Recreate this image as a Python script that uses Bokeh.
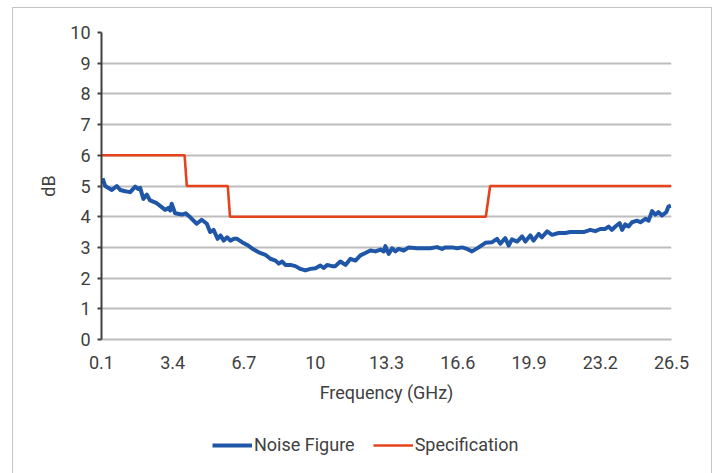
from bokeh.plotting import figure
from bokeh.layouts import column
from bokeh.models import Range1d, FixedTicker, Legend, LegendItem, ColumnDataSource
from bokeh.embed import file_html
from bokeh.resources import INLINE

# ---- data ----
nf_freq = [0.15, 0.27, 0.58, 0.81, 0.97, 1.20, 1.43, 1.66, 1.81, 1.89, 2.04, 2.20, 2.35, 2.66, 2.89,
           3.05, 3.20, 3.28, 3.35, 3.51, 3.82, 4.00, 4.21, 4.51, 4.74, 4.98, 5.13, 5.29, 5.48, 5.61,
           5.76, 5.92, 6.07, 6.23, 6.38, 6.61, 6.85, 7.15, 7.38, 7.69, 7.92, 8.16, 8.31, 8.47, 8.62,
           8.85, 9.08, 9.31, 9.54, 9.78, 10.01, 10.24, 10.39, 10.55, 10.78, 10.93, 11.16, 11.40, 11.63,
           11.86, 12.09, 12.32, 12.55, 12.79, 13.02, 13.17, 13.25, 13.40, 13.56, 13.71, 13.86, 14.10,
           14.33, 14.72, 15.33, 15.64, 15.87, 16.03, 16.34, 16.57, 16.80, 17.03, 17.26, 17.57, 17.88,
           18.19, 18.42, 18.57, 18.80, 18.96, 19.11, 19.35, 19.58, 19.73, 19.96, 20.11, 20.35, 20.50,
           20.74, 20.97, 21.27, 21.58, 21.81, 22.12, 22.43, 22.74, 22.97, 23.20, 23.43, 23.59, 23.74,
           23.90, 24.10, 24.21, 24.36, 24.51, 24.67, 24.90, 25.06, 25.29, 25.44, 25.60, 25.75, 25.90,
           26.06, 26.26, 26.36, 26.47]
nf_db = [5.25, 5.00, 4.87, 5.00, 4.87, 4.83, 4.80, 4.98, 4.90, 4.94, 4.58, 4.72, 4.53, 4.44, 4.31,
         4.22, 4.29, 4.20, 4.42, 4.11, 4.07, 4.11, 3.98, 3.77, 3.90, 3.77, 3.50, 3.57, 3.28, 3.39,
         3.22, 3.33, 3.22, 3.28, 3.28, 3.17, 3.08, 2.93, 2.84, 2.76, 2.63, 2.57, 2.47, 2.54, 2.43,
         2.43, 2.39, 2.30, 2.25, 2.30, 2.32, 2.41, 2.33, 2.43, 2.39, 2.39, 2.54, 2.43, 2.63,
         2.57, 2.74, 2.82, 2.90, 2.87, 2.93, 2.87, 3.04, 2.79, 2.97, 2.87, 2.95, 2.90,
         3.00, 2.97, 2.97, 3.01, 2.95, 3.00, 3.00, 2.97, 3.00, 2.95, 2.87, 3.00, 3.15,
         3.17, 3.28, 3.12, 3.30, 3.06, 3.26, 3.19, 3.36, 3.19, 3.39, 3.22, 3.44, 3.33,
         3.52, 3.41, 3.47, 3.47, 3.50, 3.50, 3.50, 3.57, 3.53, 3.60, 3.60, 3.68, 3.57,
         3.68, 3.79, 3.57, 3.75, 3.68, 3.82, 3.87, 3.82, 3.93, 3.87, 4.18, 4.07, 4.15,
         4.04, 4.15, 4.33, 4.36]

spec_freq = [0.1, 3.95, 4.05, 5.95, 6.05, 17.9, 18.1, 26.5]
spec_db = [6, 6, 5, 5, 4, 4, 5, 5]

x_ticks = [0.1, 3.4, 6.7, 10.0, 13.3, 16.6, 19.9, 23.2, 26.5]
x_tick_labels = ["0.1", "3.4", "6.7", "10", "13.3", "16.6", "19.9", "23.2", "26.5"]
y_ticks = [0, 1, 2, 3, 4, 5, 6, 7, 8, 9, 10]

series_names = ["Noise Figure", "Specification"]

FONT = "Roboto"
TXT = "#404040"
GRID = "#bdbdbd"
BLUE = "#1f56a8"
RED = "#e5431c"
FRAME = "#c4c4c4"

# ---- main chart ----
p = figure(width=718, height=420, output_backend="svg", toolbar_location=None,
           x_range=Range1d(0.1, 26.5), y_range=Range1d(0, 10),
           min_border_left=101, min_border_right=47, min_border_top=32, min_border_bottom=81)
p.outline_line_color = None
p.background_fill_color = "white"
p.border_fill_alpha = 0

nf_src = ColumnDataSource(dict(x=nf_freq, y=nf_db))
sp_src = ColumnDataSource(dict(x=spec_freq, y=spec_db))
p.line("x", "y", source=nf_src, line_color=BLUE, line_width=4, line_join="round")
p.line("x", "y", source=sp_src, line_color=RED, line_width=2.6)

xa = p.xaxis[0]
xa.ticker = FixedTicker(ticks=x_ticks)
xa.major_label_overrides = {t: l for t, l in zip(x_ticks, x_tick_labels)}
xa.axis_line_color = GRID
xa.axis_line_width = 2
xa.major_tick_line_color = None
xa.minor_tick_line_color = None
xa.major_label_standoff = 10
xa.axis_label = "Frequency (GHz)"
xa.axis_label_standoff = 10

ya = p.yaxis[0]
ya.ticker = FixedTicker(ticks=y_ticks)
ya.axis_line_color = "#404040"
ya.axis_line_width = 2
ya.major_tick_line_color = "#404040"
ya.major_tick_line_width = 2
ya.major_tick_out = 4
ya.major_tick_in = 0
ya.minor_tick_line_color = None
ya.major_label_standoff = 7
ya.axis_label = "dB"
ya.axis_label_standoff = 8

for ax in (xa, ya):
    ax.major_label_text_font = FONT
    ax.major_label_text_font_size = "18px"
    ax.major_label_text_color = TXT
    ax.axis_label_text_font = FONT
    ax.axis_label_text_font_size = "18px"
    ax.axis_label_text_font_style = "normal"
    ax.axis_label_text_color = TXT

p.xgrid.grid_line_color = None
p.ygrid.grid_line_color = GRID
p.ygrid.grid_line_width = 2
p.ygrid.ticker = FixedTicker(ticks=y_ticks)

# ---- legend strip (series drawn out of its view; only the legend shows) ----
lg = figure(width=718, height=53, output_backend="svg", toolbar_location=None,
            x_axis_type=None, y_axis_type=None,
            x_range=Range1d(0, 1), y_range=Range1d(0, 1),
            min_border_left=0, min_border_right=0, min_border_top=0, min_border_bottom=0)
lg.outline_line_color = None
lg.background_fill_alpha = 0
lg.border_fill_alpha = 0
k_nf = lg.line("x", "y", source=nf_src, line_color=BLUE, line_width=4)
k_sp = lg.line("x", "y", source=sp_src, line_color=RED, line_width=2.6)

legend = Legend(items=[LegendItem(label=series_names[0], renderers=[k_nf]),
                       LegendItem(label=series_names[1], renderers=[k_sp])],
                location=(111, 18), orientation="horizontal",
                glyph_width=40, glyph_height=20, label_standoff=2, spacing=18,
                padding=0, margin=0, border_line_color=None, background_fill_alpha=0,
                label_text_font=FONT, label_text_font_size="18px", label_text_color=TXT)
lg.add_layout(legend, "center")

g = "linear-gradient(%s, %s)" % (FRAME, FRAME)
layout = column(p, lg, spacing=0, styles={
    "background-color": "white",
    "background-image": ", ".join([g, g, g]),
    "background-position": "12px 7px, 711px 7px, 12px 7px",
    "background-size": "1px 480px, 1px 480px, 700px 1px",
    "background-repeat": "no-repeat",
})

open("out.html", "w").write(file_html(layout, INLINE))
